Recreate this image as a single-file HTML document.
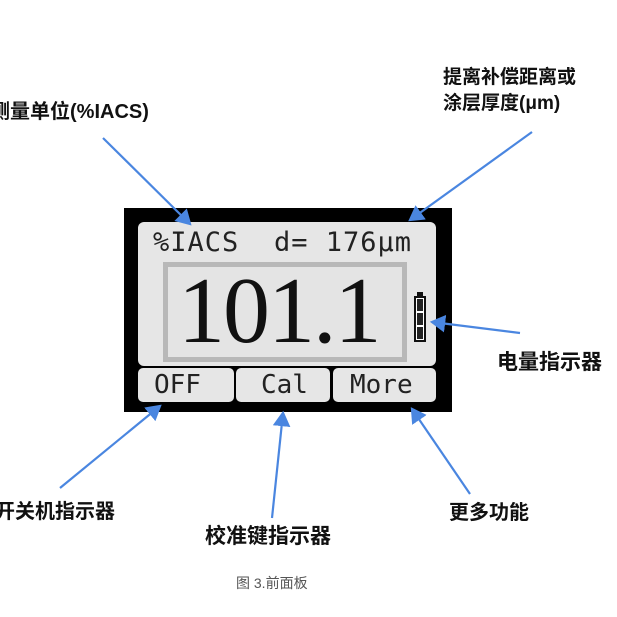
<!DOCTYPE html>
<html><head><meta charset="utf-8"><style>
body{margin:0;width:617px;height:617px;background:#fff;position:relative;overflow:hidden;font-family:"Liberation Sans","Noto Sans CJK SC",sans-serif}
.t{position:absolute;font-weight:bold;font-size:20px;color:#111;white-space:nowrap;line-height:1}
.m{font-family:"DejaVu Sans Mono","Liberation Mono",monospace;position:absolute;color:#222;white-space:nowrap;line-height:1}
</style></head><body>
<div style="position:absolute;left:124px;top:208px;width:328px;height:204px;background:#000"></div>
<div style="position:absolute;left:138px;top:222px;width:298px;height:144px;background:#e6e6e6;border-radius:6px"></div>
<div style="position:absolute;left:163px;top:262px;width:244px;height:100px;background:#e4e4e4;border:5px solid #b8b8b8;box-sizing:border-box"></div>
<div class="m" style="left:153px;top:229px;font-size:27px;letter-spacing:1px">%IACS</div>
<div class="m" style="left:274px;top:229px;font-size:27px;letter-spacing:1px">d= 176μm</div>
<div style="position:absolute;left:178px;top:264px;font-family:'Liberation Serif',serif;font-size:94px;line-height:1;color:#111;letter-spacing:-2px">101.1</div>
<div style="position:absolute;left:414px;top:296px;width:12px;height:46px;border:2px solid #111;box-sizing:border-box;background:#fff"></div>
<div style="position:absolute;left:417px;top:299px;width:6px;height:12px;background:#222"></div>
<div style="position:absolute;left:417px;top:313px;width:6px;height:12px;background:#222"></div>
<div style="position:absolute;left:417px;top:327px;width:6px;height:12px;background:#222"></div>
<div style="position:absolute;left:417px;top:292px;width:6px;height:4px;background:#111"></div>
<div style="position:absolute;left:138px;top:368px;width:96px;height:34px;background:#e6e6e6;border-radius:5px"></div>
<div style="position:absolute;left:236px;top:368px;width:94px;height:34px;background:#e6e6e6;border-radius:5px"></div>
<div style="position:absolute;left:333px;top:368px;width:103px;height:34px;background:#e6e6e6;border-radius:5px"></div>
<div class="m" style="left:154px;top:372px;font-size:26px">OFF</div>
<div class="m" style="left:261px;top:372px;font-size:26px">Cal</div>
<div class="m" style="left:350px;top:372px;font-size:26px">More</div>
<svg width="617" height="617" style="position:absolute;left:0;top:0">
<defs><marker id="a" markerWidth="8" markerHeight="8" refX="6" refY="4" orient="auto" markerUnits="strokeWidth"><path d="M0,0 L7,4 L0,8z" fill="#4a86e0"/></marker></defs>
<g stroke="#4a86e0" stroke-width="2.2" fill="none" marker-end="url(#a)">
<line x1="103" y1="138" x2="190" y2="224"/>
<line x1="532" y1="132" x2="410" y2="220"/>
<line x1="520" y1="333" x2="432" y2="322"/>
<line x1="60" y1="488" x2="160" y2="406"/>
<line x1="272" y1="518" x2="283" y2="413"/>
<line x1="470" y1="494" x2="412" y2="409"/>
</g></svg>
<div class="t" style="left:-10px;top:102px;font-size:20px">测量单位(%IACS)</div>
<div class="t" style="left:443px;top:68px;font-size:19px">提离补偿距离或</div>
<div class="t" style="left:443px;top:94px;font-size:19px">涂层厚度(μm)</div>
<div class="t" style="left:497px;top:352px;font-size:21px">电量指示器</div>
<div class="t" style="left:-5px;top:502px;font-size:20px">开关机指示器</div>
<div class="t" style="left:205px;top:526px;font-size:21px">校准键指示器</div>
<div class="t" style="left:449px;top:503px;font-size:20px">更多功能</div>
<div style="position:absolute;left:236px;top:573px;font-size:14px;color:#555">图 3.前面板</div>
</body></html>
